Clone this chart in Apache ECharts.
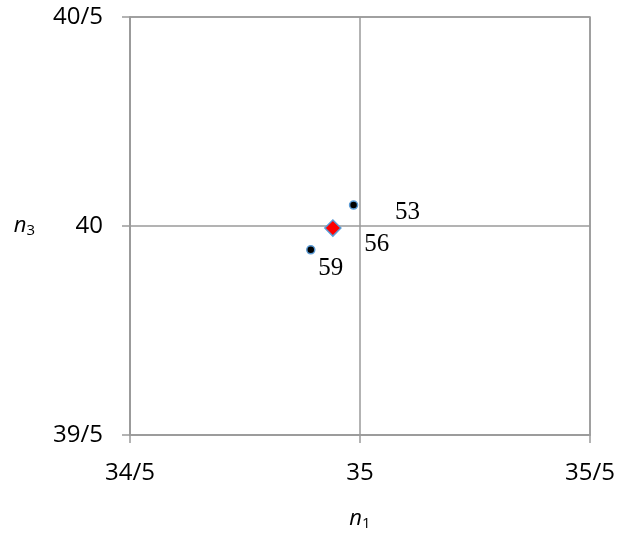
<!DOCTYPE html>
<html>
<head>
<meta charset="utf-8">
<script src="https://cdn.jsdelivr.net/npm/echarts@6/dist/echarts.min.js"></script>
<style>html,body{margin:0;padding:0;background:#fff}#c{width:618px;height:536px}</style>
</head>
<body>
<div id="c"></div>
<script>
// Data
const pointNames = ['53', '59'];
const pointX = [34.986, 34.893];
const pointY = [40.05, 39.943];
const centerName = ['56'];
const centerX = [34.941];
const centerY = [39.995];
const xTicks = [34.5, 35, 35.5];
const yTicks = [39.5, 40, 40.5];

const fmt = v => String(v).replace('.', '/');
const chart = echarts.init(document.getElementById('c'));
const labelOffsets = {'53': [54, 7], '59': [20, 19], '56': [44, 16]};
const lblStyle = n => ({show: true, position: 'inside', formatter: '{b}', offset: labelOffsets[n],
  fontFamily: 'Liberation Serif', fontSize: 25, color: '#000'});

const grey = '#9a9a9a';
chart.setOption({
  animation: false,
  grid: {left: 130, right: 28, top: 17, bottom: 101, show: true, borderColor: grey, borderWidth: 1.5,
         containLabel: false, outerBoundsMode: 'none'},
  xAxis: {
    type: 'value', min: xTicks[0], max: xTicks[xTicks.length - 1], interval: 0.5,
    axisLine: {show: true, onZero: false, lineStyle: {color: grey, width: 1.5}},
    axisTick: {show: true, length: 8, lineStyle: {color: grey, width: 1.5}},
    splitLine: {show: true, lineStyle: {color: grey, width: 1.5}},
    axisLabel: {formatter: fmt, margin: 26, fontFamily: 'Open Sans', fontSize: 24, color: '#000'},
    name: '{n|n}{s|1}', nameLocation: 'middle', nameGap: 71,
    nameTextStyle: {rich: {n: {fontFamily: 'Open Sans', fontStyle: 'italic', fontSize: 22, color: '#000'},
                           s: {fontFamily: 'Open Sans', fontSize: 15, color: '#000', verticalAlign: 'bottom', padding: [10, 0, 0, 0]}}}
  },
  yAxis: {
    type: 'value', min: yTicks[0], max: yTicks[yTicks.length - 1], interval: 0.5,
    axisLine: {show: true, onZero: false, lineStyle: {color: grey, width: 1.5}},
    axisTick: {show: true, length: 8, lineStyle: {color: grey, width: 1.5}},
    splitLine: {show: true, lineStyle: {color: grey, width: 1.5}},
    axisLabel: {formatter: fmt, margin: 27, fontFamily: 'Open Sans', fontSize: 24, color: '#000'},
    name: '{n|n}{s|3}', nameLocation: 'middle', nameGap: 95, nameRotate: 0,
    nameTextStyle: {rich: {n: {fontFamily: 'Open Sans', fontStyle: 'italic', fontSize: 22, color: '#000'},
                           s: {fontFamily: 'Open Sans', fontSize: 15, color: '#000', verticalAlign: 'bottom', padding: [10, 0, 0, 0]}}}
  },
  series: [
    {
      type: 'scatter', symbol: 'circle', symbolSize: 8,
      itemStyle: {color: '#000', borderColor: '#5b9bd5', borderWidth: 1.5, opacity: 1},
      data: pointNames.map((n, i) => ({name: n, value: [pointX[i], pointY[i]], label: lblStyle(n)}))
    },
    {
      type: 'scatter', symbol: 'diamond', symbolSize: 16,
      itemStyle: {color: '#ff0000', borderColor: '#5b9bd5', borderWidth: 1.5, opacity: 1},
      data: centerName.map((n, i) => ({name: n, value: [centerX[i], centerY[i]], label: lblStyle(n)}))
    }
  ]
});
</script>
</body>
</html>
